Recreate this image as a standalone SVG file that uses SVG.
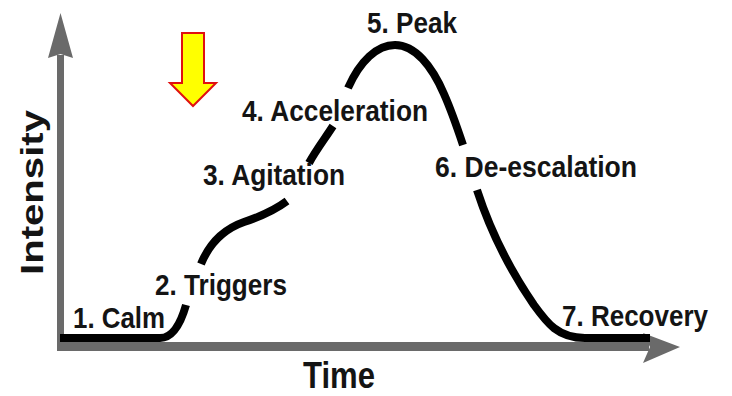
<svg xmlns="http://www.w3.org/2000/svg" width="732" height="396" viewBox="0 0 732 396">
  <style>
    .lbl { font-family: "Liberation Sans", Arial, sans-serif; font-weight: bold; font-size: 29.5px; fill: #141414; }
    .axis { fill: #6a6a6a; }
    .curve { fill: none; stroke: #000; stroke-width: 8; stroke-linecap: butt; stroke-linejoin: round; }
  </style>
  <rect width="732" height="396" fill="#ffffff"/>

  <g id="axes">
    <rect class="axis" x="57" y="55" width="7" height="296"/>
    <polygon class="axis" points="60.5,13 73,58 60.5,54 48,58"/>
    <rect class="axis" x="57" y="342" width="592" height="9"/>
    <polygon class="axis" points="643,333 680,347 643,363 650,347"/>
  </g>

  <g id="curve">
    <path class="curve" d="M60,338 H160 C172,338 180,326 186,305"/>
    <path class="curve" d="M201,264 C210,242 224,229 244,222 C262,216 275,210 287,201"/>
    <path class="curve" d="M309,163 C316,150 326,137 333,126"/>
    <path class="curve" d="M348,88 C360,61 377,45 395,45 C415,45 432,66 444,94 C452,112 458,130 463,145"/>
    <path class="curve" d="M477,190 C490,230 510,270 534,305 C547,323 558,338 585,338 H650"/>
  </g>

  <g id="marker-arrow">
    <polygon points="182,33 204,33 204,83 216,83 193,106 170,83 182,83" fill="#ffff00" stroke="#e01010" stroke-width="2" stroke-linejoin="miter"/>
  </g>

  <g id="label-calm"><text class="lbl" x="73" y="328" textLength="92" lengthAdjust="spacingAndGlyphs">1. Calm</text></g>
  <g id="label-triggers"><text class="lbl" x="155" y="295" textLength="132" lengthAdjust="spacingAndGlyphs">2. Triggers</text></g>
  <g id="label-agitation"><text class="lbl" x="203" y="185" textLength="142" lengthAdjust="spacingAndGlyphs">3. Agitation</text></g>
  <g id="label-acceleration"><text class="lbl" x="242" y="121" textLength="186" lengthAdjust="spacingAndGlyphs">4. Acceleration</text></g>
  <g id="label-peak"><text class="lbl" x="367" y="33" textLength="90" lengthAdjust="spacingAndGlyphs">5. Peak</text></g>
  <g id="label-deescalation"><text class="lbl" x="435" y="177" textLength="202" lengthAdjust="spacingAndGlyphs">6. De-escalation</text></g>
  <g id="label-recovery"><text class="lbl" x="562" y="326" textLength="146" lengthAdjust="spacingAndGlyphs">7. Recovery</text></g>
  <g id="label-time"><text class="lbl" x="303" y="388" style="font-size:37px" textLength="72" lengthAdjust="spacingAndGlyphs">Time</text></g>
  <g id="label-intensity"><text class="lbl" transform="translate(43,192.5) rotate(-90)" text-anchor="middle" style="font-size:32px" textLength="165" lengthAdjust="spacingAndGlyphs">Intensity</text></g>
</svg>
